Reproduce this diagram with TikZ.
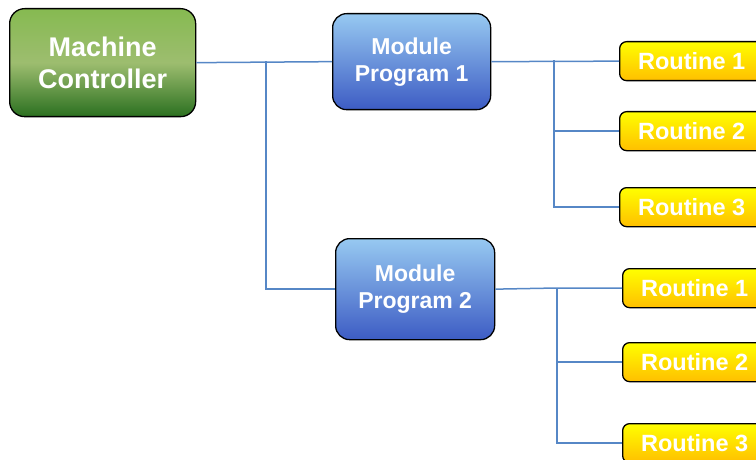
\documentclass[tikz,border=0pt]{standalone}
\usepackage{fontspec}
\setmainfont{Liberation Sans}
\definecolor{gtop}{HTML}{86BA51}
\definecolor{gmid}{HTML}{9DBD6F}
\definecolor{gbot}{HTML}{2B7020}
\definecolor{btop}{HTML}{97C9F1}
\definecolor{bbot}{HTML}{3D5CC4}
\definecolor{ytop}{HTML}{FFFF00}
\definecolor{ybot}{HTML}{FFBF00}
\definecolor{wire}{HTML}{5687C6}
\pgfdeclareverticalshading{greenbox}{100bp}{color(0bp)=(gbot); color(25bp)=(gbot); color(50bp)=(gmid); color(75bp)=(gtop); color(100bp)=(gtop)}
\pgfdeclareverticalshading{bluebox}{100bp}{color(0bp)=(bbot); color(25bp)=(bbot); color(75bp)=(btop); color(100bp)=(btop)}
\pgfdeclareverticalshading{yellowbox}{100bp}{color(0bp)=(ybot); color(25bp)=(ybot); color(75bp)=(ytop); color(100bp)=(ytop)}
\tikzset{
  box/.style={draw=black, line width=1.3pt, anchor=north west, text=white,
    font=\bfseries, align=center, inner sep=0pt},
  ctrlbox/.style={box, shading=greenbox, rounded corners=15pt,
    minimum width=186pt, minimum height=108pt, font=\bfseries\fontsize{27}{32}\selectfont},
  modbox/.style={box, shading=bluebox, rounded corners=14pt,
    minimum width=158pt, minimum height=96pt, font=\bfseries\fontsize{23}{27}\selectfont},
  rtbox/.style={box, shading=yellowbox, rounded corners=7pt,
    minimum width=144pt, minimum height=39pt, font=\bfseries\fontsize{23.5}{27}\selectfont},
  wireline/.style={draw=wire, line width=1.5pt}
}
\begin{document}
\begin{tikzpicture}[x=1pt, y=-1pt]
\useasboundingbox (0,0) rectangle (756,460);
\clip (0,0) rectangle (756,460);

% top level controller and the two module programs
\node[ctrlbox] (mc) at (9,8) {Machine\\Controller};
\node[modbox] (m1) at (332,13) {Module\\Program 1};
\node[modbox, minimum width=159pt, minimum height=101pt] (m2) at (335,238) {Module\\Program 2};

% routines of module program 1
\node[rtbox] (r11) at (619,41) {Routine 1};
\node[rtbox] (r12) at (619,111) {Routine 2};
\node[rtbox] (r13) at (619,187) {Routine 3};

% routines of module program 2
\node[rtbox] (r21) at (622,268) {Routine 1};
\node[rtbox] (r22) at (622,342) {Routine 2};
\node[rtbox] (r23) at (622,423) {Routine 3};

% branch points of the tree
\coordinate (j0) at (266,61.5);
\coordinate (j1) at (554,60.5);
\coordinate (j2) at (557,288);

% connectors
\draw[wireline] (mc.east) -- (m1.west);
\draw[wireline] (j0) |- (m2.west);

\draw[wireline] (m1.east) -- (r11.west);
\draw[wireline] (j1) |- (r12.west);
\draw[wireline] (j1) |- (r13.west);

\draw[wireline] (m2.east) -- (j2) -- (r21.west);
\draw[wireline] (j2) |- (r22.west);
\draw[wireline] (j2) |- (r23.west);
\end{tikzpicture}
\end{document}
